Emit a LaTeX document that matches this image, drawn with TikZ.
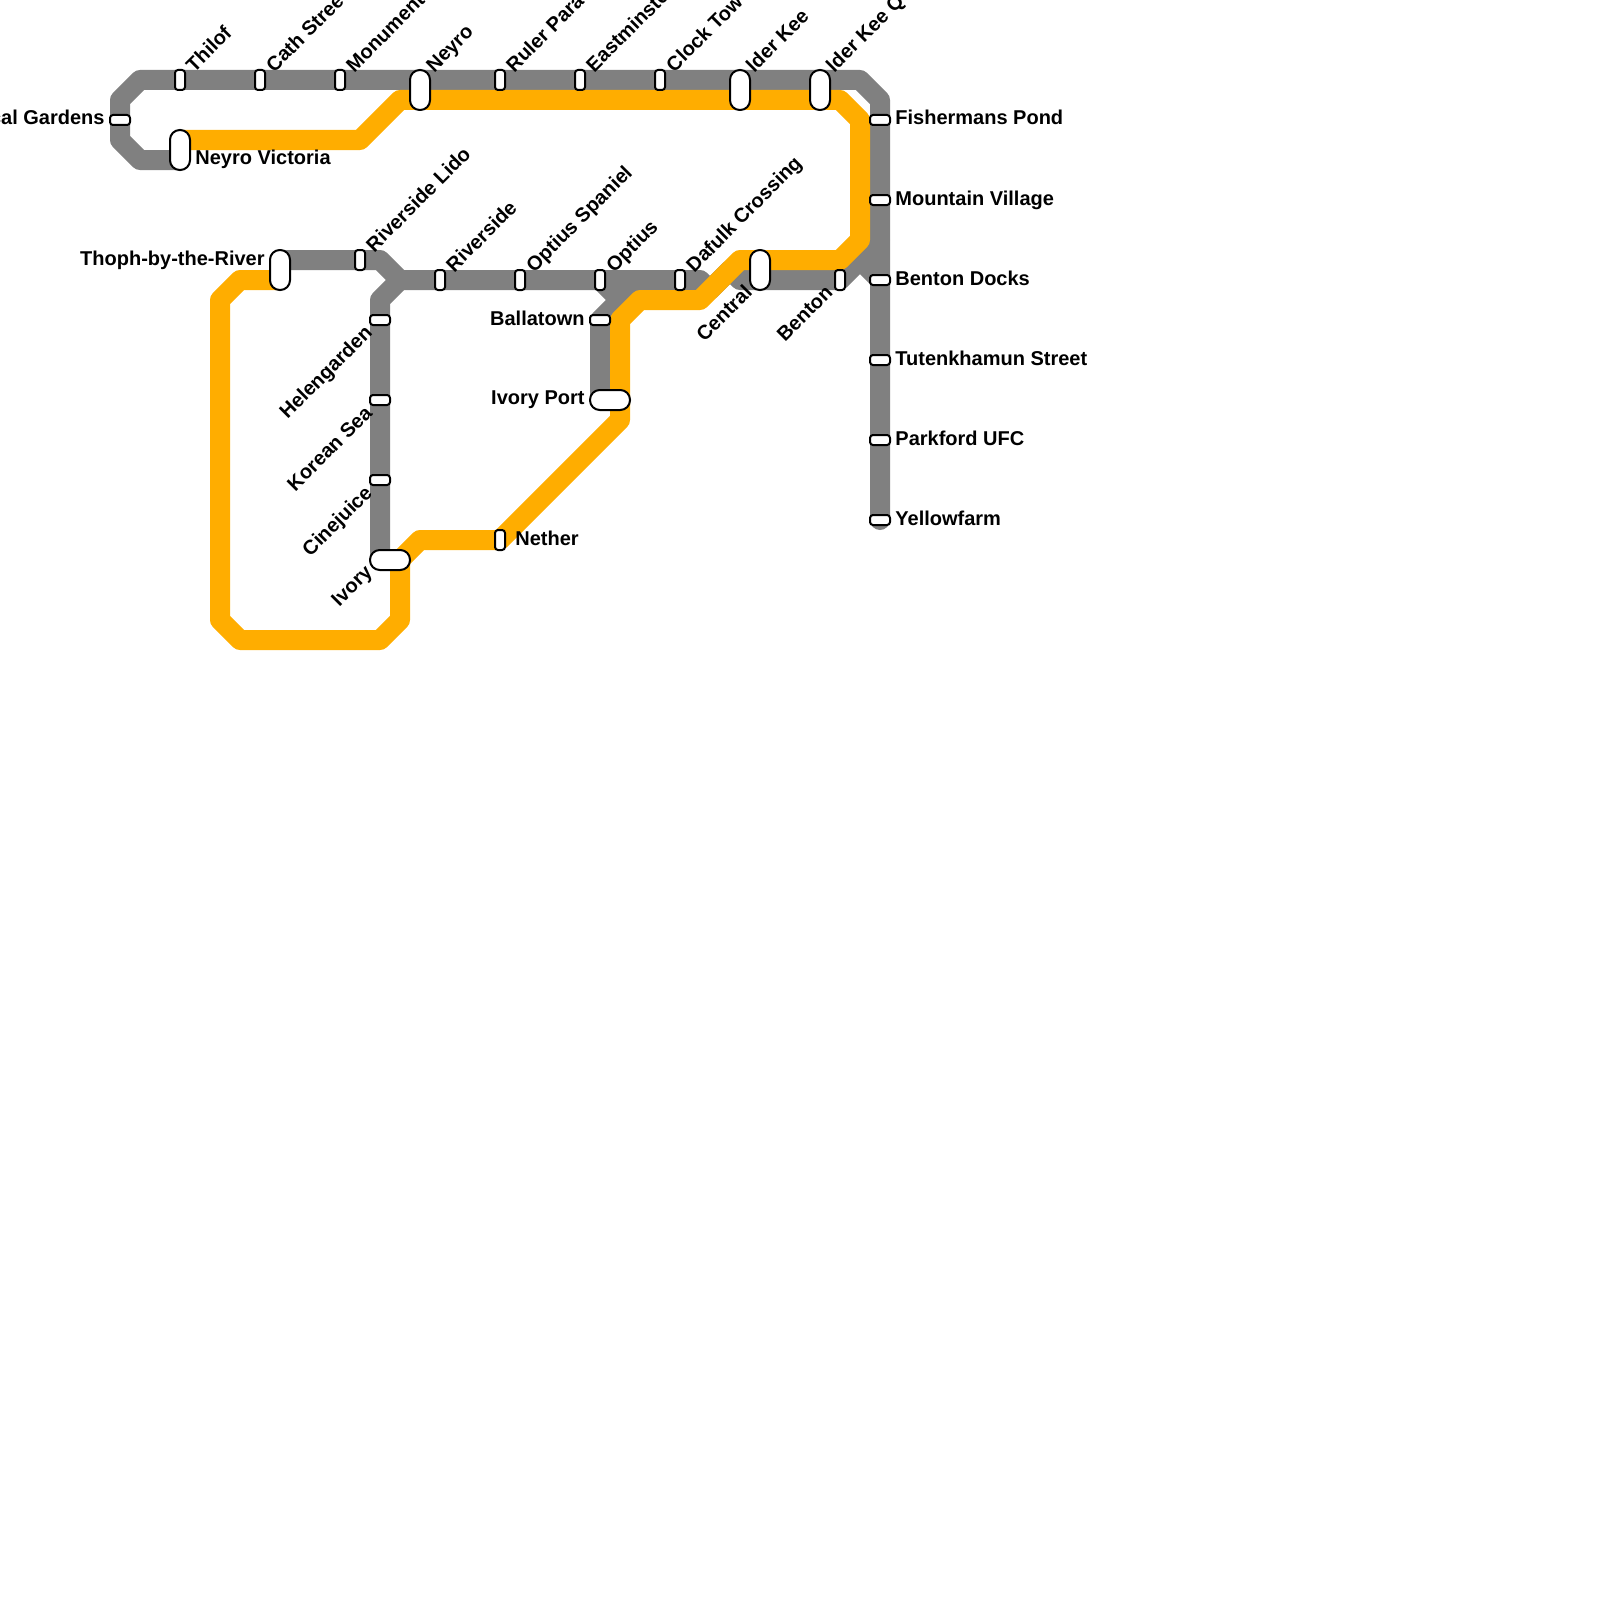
\documentclass[tikz,border=0pt]{standalone}
\usepackage{fontspec}
\setmainfont{Liberation Sans}
\usepackage{xcolor}
\definecolor{linegrey}{HTML}{808080}
\definecolor{lineorange}{HTML}{FFAD00}
\tikzset{
  route/.style={line width=10pt,line cap=round,line join=round},
  grey/.style={route,draw=linegrey},
  orange/.style={route,draw=lineorange},
  st/.style={draw=black,fill=white,line width=1pt,inner sep=0pt,outer sep=0pt},
  stv/.style={st,rounded corners=1.5pt,minimum width=5pt,minimum height=10pt},
  sth/.style={st,rounded corners=1.5pt,minimum width=10pt,minimum height=5pt},
  icv/.style={st,rounded corners=4.9pt,minimum width=10pt,minimum height=20pt},
  ich/.style={st,rounded corners=4.9pt,minimum width=20pt,minimum height=10pt},
  lab/.style={font=\bfseries\fontsize{10pt}{12pt}\selectfont,inner sep=0pt,text=black},
  up/.style={lab,rotate=45,anchor=base west},
  down/.style={lab,rotate=45,anchor=base east},
}
\begin{document}
\begin{tikzpicture}[x=0.5pt,y=-0.5pt]
\useasboundingbox (0,0) rectangle (1600,1600);
% bends of the routes
\foreach \n/\x/\y in {a1/180/160,a2/140/160,a3/120/140,a4/120/100,a5/140/80,a6/860/80,a7/880/100,a8/880/520,
  b1/280/260,b2/380/260,b3/400/280,b4/700/280,b5/710/290,b6/730/270,b7/740/280,b8/840/280,b9/860/260,b10/880/280,b11/880/240,
  c1/380/560,c2/380/300,d1/600/400,d2/600/320,d3/640/280,e1/600/280,e2/620/300,
  o1/180/140,o2/360/140,o3/400/100,o4/840/100,o5/860/120,o6/860/240,o7/840/260,o8/740/260,o9/700/300,o10/640/300,
  o11/620/320,o12/620/420,o13/500/540,o14/420/540,o15/400/560,o16/400/620,o17/380/640,o18/240/640,o19/220/620,
  o20/220/300,o21/240/280,o22/280/280}
  \coordinate (\n) at (\x,\y);
\draw[grey] (a1)--(a2)--(a3)--(a4)--(a5)--(a6)--(a7)--(a8);
\draw[grey] (b1)--(b2)--(b3)--(b4)--(b5)--(b6)--(b7)--(b8)--(b9)--(b10);
\draw[grey] (b9)--(b11);
\draw[grey] (c1)--(c2)--(b3);
\draw[grey] (d1)--(d2)--(d3);
\draw[grey] (e1)--(e2);
\draw[orange] (o1)--(o2)--(o3)--(o4)--(o5)--(o6)--(o7)--(o8)--(o9)--(o10)--(o11)--(o12)--(o13)--(o14)--(o15)--(o16)--(o17)--(o18)--(o19)--(o20)--(o21)--(o22);
% stations
\foreach \n/\x/\y/\t in {thilof/180/80/Thilof,cath/260/80/Cath Stree,monument/340/80/Monument,ruler/500/80/Ruler Para,
  eastminster/580/80/Eastminste,clock/660/80/Clock Tow,lido/360/260/Riverside Lido,riverside/440/280/Riverside,
  spaniel/520/280/Optius Spaniel,optius/600/280/Optius,dafulk/680/280/Dafulk Crossing}{
  \node[stv] (\n) at (\x,\y) {};
  \node[up] (\n l) at ([shift={(14,3.4)}]\n.north) {\t};
}
\foreach \n/\x/\y/\t in {neyro/420/90/Neyro,olderkee/740/90/lder Kee,olderq/820/90/lder Kee Q}{
  \node[icv] (\n) at (\x,\y) {};
  \node[up] (\n l) at ([shift={(14,3.4)}]\n.north) {\t};
}
\foreach \n/\x/\y/\t in {fishermans/880/120/Fishermans Pond,mountain/880/200/Mountain Village,docks/880/280/Benton Docks,
  tutenkhamun/880/360/Tutenkhamun Street,parkford/880/440/Parkford UFC,yellowfarm/880/520/Yellowfarm}{
  \node[sth] (\n) at (\x,\y) {};
  \node[lab,anchor=base west] (\n l) at ([shift={(5,5)}]\n.east) {\t};
}
\foreach \n/\x/\y/\t in {helengarden/380/320/Helengarden,korean/380/400/Korean Sea,cinejuice/380/480/Cinejuice}{
  \node[sth] (\n) at (\x,\y) {};
  \node[down] (\n l) at ([shift={(3.5,9)}]\n.south west) {\t};
}
\node[sth] (gardens) at (120,120) {};
\node[lab,anchor=base east] (gardens l) at ([shift={(-5,5)}]gardens.west) {cal Gardens};
\node[sth] (ballatown) at (600,320) {};
\node[lab,anchor=base east] (ballatown l) at ([shift={(-5,5)}]ballatown.west) {Ballatown};
\node[icv] (victoria) at (180,150) {};
\node[lab,anchor=base west] (victoria l) at (195,164) {Neyro Victoria};
\node[icv] (thoph) at (280,270) {};
\node[lab,anchor=base east] (thoph l) at (265,265) {Thoph-by-the-River};
\node[icv] (central) at (760,270) {};
\node[down] (central l) at (753.5,293.5) {Central};
\node[stv] (benton) at (840,280) {};
\node[down] (benton l) at (834,293.5) {Benton};
\node[ich] (ivory) at (390,560) {};
\node[down] (ivory l) at (373.5,573) {Ivory};
\node[ich] (port) at (610,400) {};
\node[lab,anchor=base east] (port l) at ([shift={(-5,4.5)}]port.west) {Ivory Port};
\node[stv] (nether) at (500,540) {};
\node[lab,anchor=base west] (nether l) at ([shift={(10,5)}]nether.east) {Nether};
\end{tikzpicture}
\end{document}
